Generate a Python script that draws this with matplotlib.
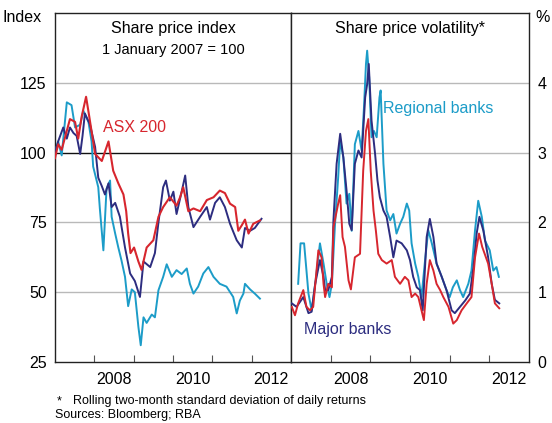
import matplotlib
matplotlib.use("Agg")
import matplotlib.pyplot as plt

plt.rcParams['font.family'] = ['Liberation Sans', 'DejaVu Sans']

# ---- Data: share price index (1 Jan 2007 = 100) ----
asx_t = [2007.00, 2007.08, 2007.17, 2007.38, 2007.51, 2007.59, 2007.68, 2007.79, 2007.87, 2008.02,
         2008.19, 2008.36, 2008.48, 2008.61, 2008.74, 2008.81, 2008.86, 2008.92, 2009.01, 2009.12,
         2009.20, 2009.33, 2009.50, 2009.63, 2009.75, 2009.92, 2010.09, 2010.18, 2010.26, 2010.39,
         2010.52, 2010.69, 2010.86, 2011.03, 2011.19, 2011.32, 2011.45, 2011.58, 2011.66, 2011.75,
         2011.83, 2011.92, 2012.04, 2012.21]
asx_v = [98, 103, 101, 112, 111, 105, 113, 120, 113, 99.5,
         97, 104, 93.5, 89, 85, 79, 71, 64, 66, 61,
         58, 66, 68.6, 77, 80.5, 84, 81, 84, 87.6, 79,
         80, 79, 83, 84, 86.4, 85.5, 81.7, 80.5, 72, 74,
         76, 71, 74.5, 75.7]

major_t = [2007.00, 2007.08, 2007.21, 2007.30, 2007.38, 2007.47, 2007.55, 2007.64, 2007.70, 2007.76,
           2007.89, 2008.02, 2008.10, 2008.19, 2008.27, 2008.36, 2008.44, 2008.53, 2008.65, 2008.78,
           2008.91, 2009.03, 2009.16, 2009.25, 2009.42, 2009.54, 2009.63, 2009.75, 2009.82, 2009.92,
           2010.01, 2010.09, 2010.22, 2010.31, 2010.39, 2010.52, 2010.69, 2010.86, 2010.94, 2011.07,
           2011.19, 2011.32, 2011.45, 2011.62, 2011.75, 2011.83, 2011.96, 2012.08, 2012.25]
major_v = [100, 104, 109, 105, 109, 107, 106, 99.5, 106, 114,
           110, 102, 91, 88, 85, 89, 80.5, 82, 77, 66,
           56.7, 54, 48.3, 61, 59, 64, 75, 87.6, 90, 82.8,
           86, 78, 86, 91.8, 80.5, 73.3, 77, 80.5, 76, 82,
           84, 80.5, 74.5, 68.6, 66, 73, 72, 73, 76.3]

regional_t = [2007.00, 2007.08, 2007.17, 2007.30, 2007.42, 2007.51, 2007.64, 2007.72, 2007.85, 2007.93,
              2007.97, 2008.10, 2008.14, 2008.23, 2008.31, 2008.40, 2008.44, 2008.53, 2008.61, 2008.69,
              2008.78, 2008.86, 2008.95, 2009.03, 2009.12, 2009.18, 2009.25, 2009.33, 2009.46, 2009.54,
              2009.63, 2009.75, 2009.84, 2009.97, 2010.09, 2010.22, 2010.35, 2010.43, 2010.52, 2010.64,
              2010.77, 2010.90, 2011.03, 2011.19, 2011.36, 2011.53, 2011.62, 2011.70, 2011.79, 2011.83,
              2011.96, 2012.08, 2012.21]
regional_v = [100, 104, 99, 118, 117, 109, 110, 115, 111, 104,
              95, 87.6, 80, 65, 87, 90, 77, 71, 66, 61.4,
              55.5, 45, 51, 50, 37.6, 31, 41, 39, 42, 41,
              50.7, 55.5, 60, 55.5, 57.9, 56.5, 58.5, 53, 49.5, 52,
              56.7, 59, 55.5, 53, 52, 48.3, 42.4, 47, 49.5, 53,
              51, 49.5, 47.7]

# ---- Data: share price volatility (%) ----
asx_vol_t = [2007.02, 2007.10, 2007.18, 2007.31, 2007.39, 2007.48, 2007.56, 2007.69, 2007.77, 2007.82,
             2007.86, 2007.94, 2008.03, 2008.07, 2008.19, 2008.24, 2008.30, 2008.36, 2008.45, 2008.51,
             2008.61, 2008.74, 2008.82, 2008.89, 2008.95, 2009.01, 2009.08, 2009.14, 2009.20, 2009.29,
             2009.41, 2009.54, 2009.62, 2009.75, 2009.87, 2009.96, 2010.04, 2010.13, 2010.21, 2010.29,
             2010.35, 2010.42, 2010.50, 2010.59, 2010.67, 2010.76, 2010.84, 2010.97, 2011.09, 2011.18,
             2011.30, 2011.43, 2011.55, 2011.64, 2011.74, 2011.82, 2011.97, 2012.06, 2012.14, 2012.25]
asx_vol_v = [0.79, 0.67, 0.84, 1.03, 0.79, 0.74, 0.79, 1.6, 1.5, 1.12,
             0.93, 1.12, 1.07, 1.93, 2.27, 2.39, 1.79, 1.65, 1.17, 1.04,
             1.5, 1.55, 2.74, 3.31, 3.48, 2.74, 2.17, 1.88, 1.55, 1.46,
             1.41, 1.46, 1.22, 1.12, 1.22, 1.17, 0.93, 0.98, 0.93, 0.74,
             0.6, 1.12, 1.46, 1.31, 1.12, 1.03, 0.93, 0.79, 0.55, 0.6,
             0.74, 0.84, 0.93, 1.5, 1.84, 1.65, 1.41, 1.12, 0.84, 0.77]

major_vol_t = [2007.02, 2007.14, 2007.31, 2007.44, 2007.52, 2007.61, 2007.73, 2007.82, 2007.86, 2007.94,
               2008.03, 2008.07, 2008.15, 2008.24, 2008.32, 2008.40, 2008.47, 2008.53, 2008.61, 2008.70,
               2008.78, 2008.87, 2008.92, 2008.96, 2009.03, 2009.12, 2009.18, 2009.24, 2009.33, 2009.41,
               2009.50, 2009.58, 2009.66, 2009.79, 2009.92, 2010.00, 2010.08, 2010.17, 2010.25, 2010.32,
               2010.42, 2010.50, 2010.59, 2010.67, 2010.80, 2010.92, 2011.05, 2011.13, 2011.26, 2011.39,
               2011.51, 2011.60, 2011.68, 2011.75, 2011.85, 2011.97, 2012.06, 2012.14, 2012.25]
major_vol_v = [0.84, 0.79, 0.93, 0.7, 0.72, 1.12, 1.46, 1.22, 1.03, 1.03,
               1.22, 2.03, 2.84, 3.27, 2.93, 2.46, 1.98, 1.89, 2.84, 3.03,
               2.93, 3.79, 3.98, 4.27, 3.46, 2.98, 2.6, 2.36, 2.17, 2.08,
               1.79, 1.5, 1.74, 1.7, 1.6, 1.46, 1.22, 1.07, 1.03, 0.74,
               1.79, 2.05, 1.79, 1.41, 1.22, 1.03, 0.74, 0.7, 0.79, 0.88,
               0.98, 1.36, 1.84, 2.08, 1.88, 1.5, 1.12, 0.89, 0.84]

regional_vol_t = [2007.18, 2007.24, 2007.33, 2007.39, 2007.44, 2007.52, 2007.61, 2007.73, 2007.82, 2007.90,
                  2007.97, 2008.03, 2008.11, 2008.19, 2008.24, 2008.32, 2008.40, 2008.47, 2008.53, 2008.61,
                  2008.70, 2008.78, 2008.84, 2008.89, 2008.92, 2008.97, 2009.03, 2009.09, 2009.16, 2009.23,
                  2009.26, 2009.33, 2009.41, 2009.50, 2009.58, 2009.66, 2009.75, 2009.83, 2009.92, 2009.98,
                  2010.04, 2010.13, 2010.21, 2010.29, 2010.38, 2010.46, 2010.55, 2010.67, 2010.80, 2010.92,
                  2011.00, 2011.08, 2011.18, 2011.26, 2011.34, 2011.47, 2011.55, 2011.64, 2011.72, 2011.81,
                  2011.89, 2012.01, 2012.10, 2012.18, 2012.24]
regional_vol_v = [1.12, 1.7, 1.7, 1.31, 0.98, 0.74, 1.12, 1.7, 1.41, 1.12,
                  0.93, 1.12, 1.98, 2.65, 3.17, 2.93, 2.27, 2.41, 1.88, 3.12,
                  3.31, 3.03, 3.65, 4.27, 4.46, 4.08, 3.22, 3.31, 3.22, 3.79,
                  3.89, 2.84, 2.17, 2.03, 2.12, 1.84, 1.98, 2.08, 2.27, 2.17,
                  1.7, 1.41, 1.22, 0.93, 1.46, 1.89, 1.7, 1.41, 1.22, 1.03,
                  0.93, 1.07, 1.17, 1.03, 0.93, 1.12, 1.31, 1.89, 2.31, 2.08,
                  1.74, 1.6, 1.31, 1.36, 1.22]

left_yticks = [25, 50, 75, 100, 125]
right_yticks = [0, 1, 2, 3, 4]
year_ticks = [2008, 2009, 2010, 2011, 2012]
year_labels = ["2008", "2010", "2012"]

RED = "#d7262e"
NAVY = "#2d2d80"
BLUE = "#1c9cc8"
GRID = "#b9b9b9"

fig = plt.figure(figsize=(5.52, 4.23), dpi=100)
W, H = 552, 423
l0, mid, r0 = 55 / W, 291 / W, 529 / W
b0, t0 = 1 - 362 / H, 1 - 13 / H
axL = fig.add_axes([l0, b0, mid - l0, t0 - b0])
axR = fig.add_axes([mid, b0, r0 - mid, t0 - b0])

for ax in (axL, axR):
    ax.set_xlim(2007, 2013)
    ax.set_xticks(year_ticks)
    ax.set_xticklabels([])
    ax.set_xticks([float(y) + 0.5 for y in year_labels], minor=True)
    ax.set_xticklabels(year_labels, minor=True)
    ax.tick_params(axis='x', which='major', direction='in', length=5, width=0.8, color='#555555')
    ax.tick_params(axis='x', which='minor', length=0, labelsize=11.5, pad=7)
    for s in ax.spines.values():
        s.set_color('#222222')
        s.set_linewidth(1.0)

# Left panel
axL.set_ylim(25, 150)
axL.set_yticks(left_yticks)
axL.tick_params(axis='y', length=0, labelsize=11.5, pad=6)
for y in left_yticks[1:]:
    if y == 100:
        axL.axhline(y, color='#111111', lw=1.0, zorder=1)
    else:
        axL.axhline(y, color=GRID, lw=1.0, zorder=1)
axL.plot(regional_t, regional_v, color=BLUE, lw=1.4, zorder=3)
axL.plot(major_t, major_v, color=NAVY, lw=1.4, zorder=4)
axL.plot(asx_t, asx_v, color=RED, lw=1.5, zorder=5)
axL.text(2008.22, 109, "ASX 200", color=RED, fontsize=11.5, va='center', ha='left')
axL.text(0.5, 0.955, "Share price index", transform=axL.transAxes, ha='center', va='center', fontsize=11.5)
axL.text(0.5, 0.895, "1 January 2007 = 100", transform=axL.transAxes, ha='center', va='center', fontsize=10.5)

# Right panel
axR.set_ylim(0, 5)
axR.set_yticks(right_yticks)
axR.yaxis.tick_right()
axR.tick_params(axis='y', length=0, labelsize=11.5, pad=6)
for y in right_yticks[1:]:
    axR.axhline(y, color=GRID, lw=1.0, zorder=1)
axR.plot(regional_vol_t, regional_vol_v, color=BLUE, lw=1.4, zorder=3)
axR.plot(major_vol_t, major_vol_v, color=NAVY, lw=1.4, zorder=4)
axR.plot(asx_vol_t, asx_vol_v, color=RED, lw=1.4, zorder=5)
axR.text(2009.32, 3.63, "Regional banks", color=BLUE, fontsize=11.5, va='center', ha='left')
axR.text(2007.33, 0.46, "Major banks", color=NAVY, fontsize=11.5, va='center', ha='left')
axR.text(0.5, 0.955, "Share price volatility*", transform=axR.transAxes, ha='center', va='center', fontsize=11.5)

# Unit labels
fig.text(3 / W, 1 - 18 / H, "Index", fontsize=11.5, ha='left', va='center')
fig.text(535 / W, 1 - 18 / H, "%", fontsize=11.5, ha='left', va='center')

# Footnotes
fig.text(57 / W, 1 - 401 / H, "*", fontsize=9, ha='left', va='center')
fig.text(73 / W, 1 - 401 / H, "Rolling two-month standard deviation of daily returns", fontsize=9, ha='left', va='center')
fig.text(55 / W, 1 - 415 / H, "Sources: Bloomberg; RBA", fontsize=9, ha='left', va='center')

fig.savefig("out.png", dpi=100)
